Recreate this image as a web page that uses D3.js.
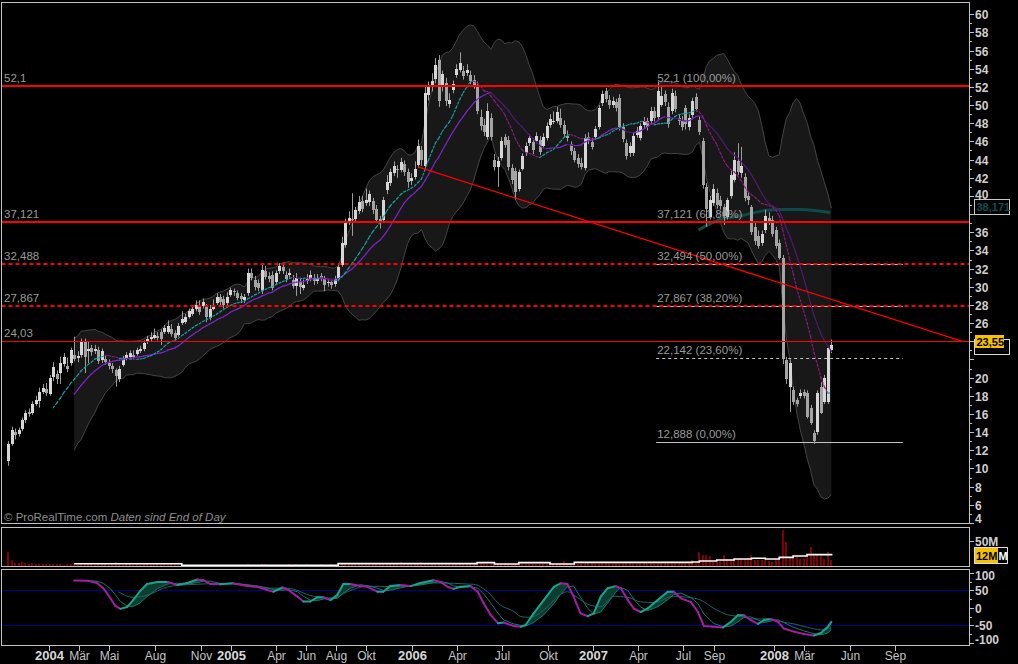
<!DOCTYPE html>
<html><head><meta charset="utf-8">
<script src="https://cdn.jsdelivr.net/npm/d3@7"></script>
<style>
html,body{margin:0;padding:0;background:#000;overflow:hidden;}
svg{display:block;}
text{font-family:"Liberation Sans",Arial,sans-serif;}
</style></head><body>
<svg id="c" width="1018" height="664"></svg>
<script>
// ---------------- DATA (weekly bars, first bar 2003-10-10) ----------------
const firstBar = "2003-10-10";
const opens = [
10.8,12.7,14.0,13.8,14.3,15.3,16.2,16.1,17.1,17.4,
18.4,18.8,18.2,20.1,20.4,20.5,21.5,21.3,21.6,22.5,
22.2,22.5,24.0,22.9,23.3,22.9,23.0,21.9,22.1,21.6,
21.3,20.8,19.8,21.4,22.1,22.3,22.5,22.6,22.9,23.1,
23.9,24.2,24.4,24.6,25.0,25.0,25.0,25.4,24.9,24.7,
26.0,26.1,26.7,27.0,27.5,28.0,27.9,27.8,26.6,27.6,
28.2,28.9,28.6,28.2,29.1,29.5,29.3,29.0,28.5,29.3,
31.5,30.7,30.4,29.5,31.7,31.2,31.3,30.5,31.7,32.2,
31.3,31.3,30.7,30.1,30.5,29.9,30.6,30.9,31.0,30.6,
31.2,30.9,30.4,30.5,30.3,30.8,32.4,34.6,37.2,37.5,
37.5,38.3,39.4,39.2,39.3,39.4,38.6,37.5,37.4,40.7,
41.4,42.5,43.0,42.9,43.5,42.6,41.6,42.1,43.4,45.0,
43.3,51.1,52.0,52.9,55.0,52.0,52.4,50.1,51.7,53.3,
53.9,53.7,53.5,53.3,52.8,52.0,48.7,47.8,46.5,48.6,
44.0,43.2,44.2,46.5,46.2,43.1,42.7,40.8,43.0,44.7,
45.8,45.9,46.1,46.2,45.5,46.4,47.8,48.2,48.2,48.6,
47.8,46.6,45.7,44.9,44.2,43.6,43.1,46.5,45.9,46.5,
47.6,50.2,51.5,50.6,50.0,50.3,50.8,47.6,45.8,44.7,
44.7,46.7,46.4,47.8,48.3,48.2,49.4,48.7,50.0,51.2,
49.8,49.3,51.0,48.6,48.4,49.7,47.6,48.9,50.9,48.4,
46.0,41.0,37.7,39.2,40.3,39.6,38.8,37.7,40.0,41.8,
43.8,42.5,42.1,40.0,38.8,36.6,35.6,34.8,36.2,37.6,
37.4,36.2,34.8,33.2,21.9,19.0,18.6,17.5,18.0,18.4,
18.3,16.6,13.9,14.0,19.0,17.3,17.3,23.0];
const highs = [
13.0,14.6,14.4,14.5,15.6,16.4,16.6,17.4,18.0,18.9,
19.3,19.4,20.3,21.7,20.8,22.3,22.7,22.2,23.3,24.5,
22.9,24.3,24.3,24.0,23.6,23.6,23.4,23.2,22.5,22.0,
21.6,21.0,21.3,22.4,22.8,23.0,23.0,23.3,23.5,24.1,
24.6,25.0,25.4,25.0,25.3,25.8,26.3,25.9,25.2,26.0,
27.3,27.0,27.6,27.9,28.5,28.5,28.7,28.1,28.0,28.6,
29.3,29.2,29.0,29.4,29.9,29.8,29.6,29.3,29.2,32.0,
32.0,31.2,30.8,32.5,32.3,31.6,31.7,31.8,32.6,32.6,
31.7,32.0,31.3,31.5,31.0,30.8,31.4,31.8,31.4,31.4,
31.5,31.2,30.9,30.8,31.2,32.6,35.5,37.5,38.3,40.3,
38.8,40.0,40.0,40.8,40.6,39.8,39.0,37.8,39.9,42.3,
43.0,43.8,43.4,44.2,43.9,43.0,42.5,43.8,46.2,45.5,
52.0,52.6,53.5,55.2,55.5,53.8,53.0,51.3,52.7,54.5,
55.8,54.3,54.5,53.8,53.3,52.6,49.5,48.5,50.2,49.1,
44.6,44.3,46.5,46.8,46.6,43.5,43.1,42.9,44.7,45.9,
46.8,46.3,47.0,46.6,46.9,48.1,49.0,49.3,49.8,49.6,
48.3,47.2,46.0,45.3,44.6,44.2,46.8,47.0,46.4,47.7,
50.0,51.6,51.9,51.1,50.9,50.7,51.2,48.0,46.2,45.9,
47.0,47.6,48.0,48.7,48.6,49.8,49.8,52.6,52.2,51.6,
50.3,51.8,51.6,49.0,48.8,50.0,49.0,50.8,51.3,48.8,
46.4,41.4,40.0,41.3,40.8,40.0,39.1,39.8,42.8,44.8,
45.8,45.4,42.5,40.4,39.0,37.2,36.2,36.2,38.5,38.2,
37.8,36.6,35.2,33.5,22.3,22.0,19.0,17.8,18.7,18.7,
18.6,17.0,14.2,18.6,19.5,20.3,23.5,24.2];
const lows = [
10.3,12.5,13.2,13.5,14.1,15.0,15.7,15.9,16.9,16.7,
18.2,18.0,18.0,19.6,19.3,19.3,21.2,20.6,21.3,21.8,
21.7,22.2,20.5,21.6,22.4,22.6,21.5,21.6,21.4,20.9,
20.5,19.0,19.5,21.2,21.9,22.1,22.0,22.4,22.7,22.9,
23.7,24.0,24.2,24.1,23.6,24.8,24.8,24.5,24.1,24.5,
25.8,25.9,26.5,26.8,27.3,26.9,27.6,26.1,26.3,27.4,
28.0,27.9,27.6,28.0,28.9,29.0,28.5,28.2,28.2,29.0,
30.7,29.6,29.5,29.2,30.8,30.5,29.6,30.2,31.4,31.4,
30.5,31.0,29.8,29.0,29.2,29.6,30.3,30.6,30.2,30.3,
30.6,29.5,30.0,29.8,30.0,30.6,32.2,34.3,36.8,35.6,
37.2,38.0,38.2,38.9,38.9,38.0,37.0,36.4,37.2,40.2,
41.1,42.2,42.0,42.6,42.2,40.9,41.2,41.8,43.1,43.3,
43.0,50.5,51.5,52.4,49.8,51.5,49.9,49.7,51.3,53.0,
53.6,52.8,53.2,52.3,51.8,49.0,47.2,46.6,46.2,46.1,
42.8,41.0,43.9,45.3,42.8,41.3,39.6,40.5,42.8,44.4,
45.5,44.6,45.8,44.5,45.2,46.1,47.5,47.9,48.0,47.5,
46.5,46.0,44.5,43.7,43.1,42.9,42.8,45.7,45.1,46.2,
47.3,49.9,50.3,49.6,49.7,49.3,47.2,45.9,44.0,44.3,
44.4,46.4,46.1,47.5,47.2,47.9,48.2,48.4,49.8,49.9,
47.5,49.0,49.2,47.8,47.2,47.3,47.2,48.6,49.3,46.7,
40.8,36.6,37.4,38.9,38.6,38.5,36.8,37.4,39.7,41.5,
42.3,42.0,39.4,39.0,35.7,34.6,34.2,34.5,35.9,36.8,
35.5,34.2,33.0,21.5,19.3,16.2,17.0,16.8,17.7,17.7,
15.5,14.8,12.7,13.7,16.0,17.1,17.1,22.7];
const closes = [
12.7,14.2,13.7,14.2,15.3,16.1,16.0,17.1,17.5,18.4,
18.9,18.3,20.0,21.2,19.8,21.6,22.3,20.9,23.0,22.1,
22.4,24.0,22.3,23.2,22.8,23.1,21.8,22.9,21.7,21.3,
20.9,20.2,21.0,22.1,22.5,22.7,22.3,23.0,23.2,23.8,
24.2,24.5,24.7,24.4,24.3,25.5,25.7,24.8,24.4,25.7,
26.5,26.7,27.3,27.6,28.0,27.2,28.3,26.7,27.6,28.0,
28.9,28.3,28.0,28.9,29.6,29.4,28.8,28.6,28.9,31.5,
31.0,30.0,29.9,31.8,31.1,30.9,29.9,31.5,32.3,31.7,
30.9,31.5,30.1,31.0,30.0,30.2,30.9,31.3,30.6,31.0,
31.0,30.2,30.5,30.2,30.8,32.2,34.8,37.2,37.6,37.3,
38.4,39.3,38.6,39.6,40.2,38.4,37.3,37.0,39.5,41.5,
42.6,43.3,42.8,43.7,42.6,41.5,42.0,43.0,45.5,44.0,
51.3,52.0,52.6,54.4,50.5,53.4,50.5,50.6,52.3,54.0,
54.6,53.2,53.9,52.6,52.2,49.4,47.7,47.0,49.3,46.5,
43.2,43.8,46.0,45.6,43.2,41.7,40.4,42.6,44.4,45.5,
46.4,45.0,46.6,44.8,46.5,47.7,48.5,48.3,49.2,47.8,
46.8,46.4,44.9,44.0,43.5,43.2,46.4,46.0,45.4,47.4,
49.7,51.2,50.7,50.0,50.5,49.7,47.6,46.3,44.4,45.5,
46.6,47.2,47.7,48.3,47.6,49.4,48.6,51.6,51.0,50.3,
47.9,51.3,49.6,48.2,47.6,47.9,48.6,50.4,49.6,47.0,
41.2,38.6,39.5,40.8,39.0,38.9,37.8,39.5,42.3,44.0,
42.6,43.3,39.8,39.6,36.0,35.0,34.5,35.8,37.8,37.2,
35.8,34.5,33.2,22.1,19.8,21.6,17.3,17.1,18.3,18.0,
15.7,15.0,13.0,18.3,16.1,20.0,23.3,23.55];
const volumes = [ // millions
28,12,6.5,5,7,5,4,6,4.5,4,
4,3.5,3.5,3,3,3.5,2.5,3,3.5,3,
2.5,3,3.5,3,3,2.5,3,3.5,3,2.5,
3,8,3,2.5,3,3,2.5,3,2.5,3,
3,2.5,2.5,3,2,3,2.5,3,2,2.5,
1.2,1,1.5,1,1.2,1.5,1,1.3,1,1.2,
1.5,1,1.2,1,1.5,1.2,1,1.3,1.5,3,
1.2,1,1.5,4,3,1.2,1,1.5,1.2,1,
1.3,3,1.2,3.5,1,1.2,3,1.5,1,1.2,
3,1.5,1,3,1.2,1.5,5,4,3.5,3,
4,3,3.5,4,3,3.5,3,4,3.5,3,
4,3,3.5,7,3,4,3.5,3,4,8,
5,4,3.5,4,3,4,3.5,4,3,3.5,
4,3,3.5,4,3,3.5,6,4,3.5,4,
3,3.5,4,5,4,3.5,6,5,4,3.5,
4,3,4,3.5,3,4,3.5,4,3,4,
10,5,4,5,4,10.5,6,5,6,7,
6,5,6,5,6,7,6,7,6,6,
7,6,7,6,7,6,10,6,7,6,
7,10,7,6,7,7,7,12,7,28,
22,22,20,8.6,8,10.5,22,13.2,13.8,13.2,
13.2,13.2,13.8,14.5,22,12,12,12,12,9.2,
8.6,13,17,72,48,17,22,18,13,16.5,
18,38,24,24,24,14,28,12];
// volume average (stepped), [bar index, value in M]
const volAvgIdx = [19,50,95,135,140,147,156,163,197,199,204,209,214,218,222,226,230,237.3];
const volAvgVal = [4.5,1.3,4.6,6.6,4.0,6.6,4.0,7.2,7.9,9.9,11.9,13.8,15.2,13.8,17.1,19.8,22.4,22.4];

// oscillator (samples by bar index)
const oscIdx = [19,23,25.6,27.4,29.4,30.8,32.3,34.3,36,38,
40,43,46,48.7,51.6,54.5,56.2,58.2,61,64.8,
68.9,71.8,74.6,76.4,79,80.7,83.3,85,87,89,
90.8,92.8,94.8,96.5,98.6,101.4,103.5,106.3,108,110,
113,115.9,118.7,122.5,124.5,126.5,128.2,130.3,133.1,135.2,
136.9,138.9,141,142.7,145.5,147.6,149,151.3,154.2,157.1,
159,161,162.8,164.8,166.9,168.6,170.6,172.6,174.9,176.4,
178.4,180.1,182.1,184.1,187,189.9,191.6,193.7,196.5,198.6,
200.3,203.2,205.8,208.1,210.1,211.8,213.8,215.9,217.6,219.6,
221.6,223.3,226.2,229.1,232,234,236,237];
const oscK = [78,77,71,56,28,6,-3,2.5,22,48,
68,74,74,65,71,81,79,68,67,70,
62,60,51,46,58,51,32,18,18,30,
30,22,37,68,68,62,60,46,46,62,
65,62,71,79,74,60,54,60,62,46,
13,-20,-44,-42,-52,-54,-49,-16,22,60,
70,68,32,-16,-24,-16,32,56,62,56,
22,-2,-12,-2,22,46,46,27,17,-12,
-52,-54,-56,-40,-21,-21,-35,-46,-35,-32,
-40,-59,-68,-75,-79,-72,-54,-40];
const oscD = [78,78,76,70,55,38,18,5,4,14,
32,55,68,70,68,72,76,76,70,68,
66,62,57,52,50,52,46,33,22,21,
25,26,27,42,56,66,63,56,50,50,
57,63,65,72,75,71,63,58,60,56,
40,14,-15,-35,-46,-50,-52,-42,-20,12,
38,60,62,30,-2,-18,-12,14,44,58,
50,25,2,-8,3,23,38,42,30,12,
-18,-45,-54,-52,-40,-28,-26,-35,-42,-38,
-34,-42,-56,-66,-74,-77,-72,-62];
const slowIdx = [31.7,36,40,46,51.6,64.8,74.6,80.4,87.9,93.7,
97.7,103.5,113,122.5,134,138,141.7,145.5,147.6,149.6,
151.3,154.2,161,162.8,166.9,170.6,174.4,178.4,182.1,186,
191.6,195.7,199.4,203.2,207.2,210.9,214.7,218.7,222.5,226.2,
230.2,234,236.9];
const slowVal = [46,30,36,60,66,70,56,56,33,28,
46,62,60,71,67,46,8,-10,-25,-27,
-25,-6,46,37,10,3,33,30,17,15,
33,30,22,-2,-20,-25,-32,-32,-40,-46,
-56,-63,-58];

// long average (dark teal) samples
const longIdx = [198.7,205,210.8,216.5,221.3,228,236.7];
const longVal = [36.25,37.4,37.8,38.3,38.5,38.5,38.17];

// horizontal levels
const levelVals = [52.1,37.121,32.488,27.867,24.03];
const levelText = ["52,1","37,121","32,488","27,867","24,03"];
const levelDash = [false,false,true,true,false];
const levelWidth = [2,2,2,2,1];

// Fibonacci retracement
const fibVals = [52.1,37.121,32.494,27.867,22.142,12.888];
const fibText = ["52,1 (100,00%)","37,121 (61,80%)","32,494 (50,00%)","27,867 (38,20%)","22,142 (23,60%)","12,888 (0,00%)"];
const fibStart = "2007-05-08", fibEnd = "2008-09-16";

// trend line
const trendDates = ["2006-01-13","2009-01-14"];
const trendVals = [43.2,24.0];

// axis ticks
const timeTicks = [["2004-01-01","2004",1],["2004-03-01","Mär",0],["2004-05-01","Mai",0],["2004-08-01","Aug",0],["2004-11-01","Nov",0],
["2005-01-01","2005",1],["2005-04-01","Apr",0],["2005-06-01","Jun",0],["2005-08-01","Aug",0],["2005-10-01","Okt",0],
["2006-01-01","2006",1],["2006-04-01","Apr",0],["2006-07-01","Jul",0],["2006-10-01","Okt",0],
["2007-01-01","2007",1],["2007-04-01","Apr",0],["2007-07-01","Jul",0],["2007-09-01","Sep",0],
["2008-01-01","2008",1],["2008-03-01","Mär",0],["2008-06-01","Jun",0],["2008-09-01","Sep",0]];
const priceLabelsHidden = [38,24,22]; // covered by value boxes in the original
const oscTicks = [100,50,0,-50,-100];
const lastPrice = "23,55", longLabel = "38,171", volLabel = "12M", volLabelTail = "M", volTick = 50;

// ---------------- DRAWING ----------------
const svg = d3.select("#c");
svg.append("rect").attr("width",1018).attr("height",664).attr("fill","#000");
const pd = d3.utcParse("%Y-%m-%d");
const DAY = 864e5;
const base = pd(firstBar).getTime();
const idxDate = t => new Date(base + t*7*DAY);
const x = d3.scaleUtc().domain([pd("2004-01-01"), pd("2008-01-01")]).range([49.3, 774.3]);
const yP = d3.scaleLinear().domain([24.03,52.1]).range([341,86]);
const yV = d3.scaleLinear().domain([0,50]).range([566,540.7]);
const yO = d3.scaleLinear().domain([-50,50]).range([625.3,590.3]);
const xi = t => x(idxDate(t));

const frame = {l:1.5, r:969.5};
const panels = {main:[2.5,523.5], vol:[527.5,566.5], osc:[569.5,645.5]};

const defs = svg.append("defs");
Object.entries(panels).forEach(([k,[t,b]])=>{
  defs.append("clipPath").attr("id","clip-"+k).append("rect")
    .attr("x",frame.l+0.5).attr("y",t+0.5).attr("width",frame.r-frame.l-1).attr("height",b-t-1);
});

const N = closes.length;
const bars = d3.range(N).map(i=>({i, d:idxDate(i), o:opens[i], c:closes[i],
  h:Math.max(highs[i],opens[i],closes[i]), l:Math.min(lows[i],opens[i],closes[i]), v:volumes[i]}));

// Bollinger (20,2) and moving averages from closes
function win(i,n){ return closes.slice(i-n+1,i+1); }
const band = [];
for(let i=19;i<N;i++){
  const w = win(i,20), m = d3.mean(w);
  const sd = Math.sqrt(d3.mean(w, v=>(v-m)*(v-m)));
  band.push({d:bars[i].d, m, up:m+2*sd, lo:m-2*sd});
}
const ma14 = [];
for(let i=13;i<N;i++) ma14.push({d:bars[i].d, v:d3.mean(win(i,14))});

const gMain = svg.append("g").attr("clip-path","url(#clip-main)");
// band
gMain.append("path").datum(band).attr("fill","#181818")
  .attr("d", d3.area().x(d=>x(d.d)).y0(d=>yP(d.lo)).y1(d=>yP(d.up)));
["up","lo"].forEach(k=>gMain.append("path").datum(band).attr("fill","none").attr("stroke","#454545").attr("stroke-width",1)
  .attr("d", d3.line().x(d=>x(d.d)).y(d=>yP(d[k]))));

// fib lines
fibVals.forEach((v,k)=>{
  gMain.append("line").attr("x1",x(pd(fibStart))).attr("x2",x(pd(fibEnd)))
    .attr("y1",Math.round(yP(v))+0.5).attr("y2",Math.round(yP(v))+0.5)
    .attr("stroke","#c4c4c4").attr("stroke-width",1)
    .attr("stroke-dasharray", k===4 ? "3,3" : null);
});

// long dark teal average
gMain.append("path").datum(longIdx.map((t,k)=>[xi(t), yP(longVal[k])]))
  .attr("fill","none").attr("stroke","#0e4a4a").attr("stroke-width",3)
  .attr("d", d3.line().curve(d3.curveMonotoneX));

// candles
const cg = gMain.append("g");
bars.forEach(b=>{
  const cx = Math.round(x(b.d));
  cg.append("line").attr("x1",cx+0.5).attr("x2",cx+0.5).attr("y1",yP(b.h)).attr("y2",yP(b.l))
    .attr("stroke","#9c9c9c").attr("stroke-width",1);
  const top = yP(Math.max(b.o,b.c)), bot = yP(Math.min(b.o,b.c));
  cg.append("rect").attr("x",cx-1).attr("width",3).attr("y",top).attr("height",Math.max(1,bot-top))
    .attr("fill", b.c>=b.o ? "#d6d6d6" : "#a4a4a4").attr("shape-rendering","crispEdges");
});

// slope coloured lines
function slopeLine(g, pts, upC, dnC, w, dash){
  for(let k=1;k<pts.length;k++){
    const a=pts[k-1], b=pts[k];
    g.append("line").attr("x1",a[0]).attr("y1",a[1]).attr("x2",b[0]).attr("y2",b[1])
      .attr("stroke", b[2]>=a[2]?upC:dnC).attr("stroke-width",w)
      .attr("stroke-dasharray",dash||null).attr("stroke-linecap","round");
  }
}
slopeLine(gMain, band.map(d=>[x(d.d),yP(d.m),d.m]), "#7d26c9", "#4e1a72", 1.2);
slopeLine(gMain, ma14.map(d=>[x(d.d),yP(d.v),d.v]), "#1b9c9c", "#8a1c7c", 1.2, "2,2");

// horizontal red levels
levelVals.forEach((v,k)=>{
  const yy = Math.round(yP(v)) + (levelWidth[k]===1?0.5:0);
  gMain.append("line").attr("x1",frame.l).attr("x2",frame.r).attr("y1",yy).attr("y2",yy)
    .attr("stroke","#ff0000").attr("stroke-width",levelWidth[k])
    .attr("stroke-dasharray", levelDash[k] ? "4,3" : null);
});
// trend line
gMain.append("line")
  .attr("x1",x(pd(trendDates[0]))).attr("y1",yP(trendVals[0]))
  .attr("x2",x(pd(trendDates[1]))).attr("y2",yP(trendVals[1]))
  .attr("stroke","#ff0000").attr("stroke-width",1.3);

// labels in main panel
levelVals.forEach((v,k)=>{
  gMain.append("text").attr("x",4).attr("y",Math.round(yP(v))-4).text(levelText[k])
    .attr("fill","#9a9a9a").attr("font-size",11.5);
});
fibVals.forEach((v,k)=>{
  gMain.append("text").attr("x",x(pd(fibStart))+1).attr("y",Math.round(yP(v))-4).text(fibText[k])
    .attr("fill","#9a9a9a").attr("font-size",11.5);
});
const cp = gMain.append("text").attr("x",4).attr("y",521).attr("font-size",11.5).attr("fill","#8e8e8e");
cp.append("tspan").text("© ProRealTime.com  ");
cp.append("tspan").attr("font-style","italic").text("Daten sind End of Day");

// ---------------- VOLUME ----------------
const gVol = svg.append("g").attr("clip-path","url(#clip-vol)");
bars.forEach(b=>{
  const cx = Math.round(x(b.d));
  gVol.append("rect").attr("x",cx-1).attr("width",2).attr("y",yV(b.v)).attr("height",yV(0)-yV(b.v))
    .attr("fill","#7e0000").attr("shape-rendering","crispEdges");
});
gVol.append("path").datum(volAvgIdx.map((t,k)=>[xi(t), yV(volAvgVal[k])]))
  .attr("fill","none").attr("stroke","#ffffff").attr("stroke-width",1.6)
  .attr("d", d3.line().curve(d3.curveStepAfter));

// ---------------- OSCILLATOR ----------------
const gOsc = svg.append("g").attr("clip-path","url(#clip-osc)");
[50,-50].forEach(v=>gOsc.append("line").attr("x1",frame.l).attr("x2",frame.r)
  .attr("y1",Math.round(yO(v))+0.5).attr("y2",Math.round(yO(v))+0.5).attr("stroke","#000088").attr("stroke-width",1));
const kPts = oscIdx.map((t,k)=>[xi(t), yO(oscK[k]), oscK[k]]);
const dPts = oscIdx.map((t,k)=>[xi(t), yO(oscD[k])]);
defs.append("clipPath").attr("id","aboveD").append("path")
  .attr("d", d3.area().x(p=>p[0]).y0(570).y1(p=>p[1])(dPts));
gOsc.append("g").attr("clip-path","url(#aboveD)").append("path")
  .attr("fill","#0c3d2e")
  .attr("d", d3.area().x(p=>p[0]).y0(p=>p[1]).y1(645)(kPts));
gOsc.append("path").datum(slowIdx.map((t,k)=>[xi(t), yO(slowVal[k])]))
  .attr("fill","none").attr("stroke","#1d6464").attr("stroke-width",1)
  .attr("d", d3.line().curve(d3.curveMonotoneX));
gOsc.append("path").datum(dPts).attr("fill","none").attr("stroke","#157a6c").attr("stroke-width",1)
  .attr("d", d3.line());
slopeLine(gOsc, kPts, "#1aa38e", "#a21ea2", 2);

// ---------------- FRAMES & AXES ----------------
const gAx = svg.append("g").attr("shape-rendering","crispEdges");
Object.values(panels).forEach(([t,b])=>{
  gAx.append("rect").attr("x",frame.l).attr("y",t).attr("width",frame.r-frame.l).attr("height",b-t)
    .attr("fill","none").attr("stroke","#c2c2c2").attr("stroke-width",1);
});
// price axis
for(let v=4; v<=60; v++){
  const yy = Math.round(yP(v))+0.5;
  gAx.append("line").attr("x1",frame.r).attr("x2",frame.r+(v%2===0?4:2.5)).attr("y1",yy).attr("y2",yy)
    .attr("stroke","#c2c2c2");
  if(v%2===0 && !priceLabelsHidden.includes(v)){
    svg.append("text").attr("x",975).attr("y",yy+4+(v===4?-5:0)+(v===40?-1.5:0)).text(v)
      .attr("fill","#cfcfcf").attr("font-size",12).attr("font-weight","bold");
  }
}
// volume axis
gAx.append("line").attr("x1",frame.r).attr("x2",frame.r+4).attr("y1",Math.round(yV(volTick))+0.5).attr("y2",Math.round(yV(volTick))+0.5).attr("stroke","#c2c2c2");
svg.append("text").attr("x",975).attr("y",Math.round(yV(volTick))+4.5).text(volTick+"M")
  .attr("fill","#cfcfcf").attr("font-size",12).attr("font-weight","bold");
// oscillator axis
for(let v=-100; v<=100; v+=25){
  const yy = Math.round(yO(v))+0.5;
  gAx.append("line").attr("x1",frame.r).attr("x2",frame.r+(v%50===0?4:2.5)).attr("y1",yy).attr("y2",yy).attr("stroke","#c2c2c2");
}
oscTicks.forEach(v=>{
  const nud = v===100?2:(v===-100?-4:0);
  svg.append("text").attr("x",975).attr("y",Math.round(yO(v))+4.5+nud).text(v)
    .attr("fill","#cfcfcf").attr("font-size",12).attr("font-weight","bold");
});
// time axis
timeTicks.forEach(([ds,lab,yr])=>{
  const xx = Math.round(x(pd(ds)))+0.5;
  gAx.append("line").attr("x1",xx).attr("x2",xx).attr("y1",645.5).attr("y2",650.5).attr("stroke","#c2c2c2");
  svg.append("text").attr("x",xx).attr("y",660).attr("text-anchor","middle").text(lab)
    .attr("fill", yr?"#d8d8d8":"#c4c4c4").attr("font-size", yr?13:12).attr("font-weight", yr?"bold":"normal");
});

// value boxes on right
const lastY = Math.round(yP(closes[N-1]));
svg.append("rect").attr("x",974.5).attr("y",lastY-5.5).attr("width",35).attr("height",15)
  .attr("fill","#000").attr("stroke","#d8d8d8");
svg.append("rect").attr("x",975).attr("y",lastY-10).attr("width",29).attr("height",13).attr("fill","#f7c100");
svg.append("text").attr("x",976.5).attr("y",lastY+0.5).text(lastPrice).attr("fill","#000")
  .attr("font-size",11).attr("font-weight","bold");

const longY = Math.round(yP(longVal[longVal.length-1]));
svg.append("rect").attr("x",974.5).attr("y",longY-13.5).attr("width",35).attr("height",15)
  .attr("fill","#000").attr("stroke","#c8c8c8");
svg.append("text").attr("x",976.5).attr("y",longY-2).text(longLabel).attr("fill","#0f5050")
  .attr("font-size",11).attr("font-weight","bold");

const vY = Math.round(yV(volumes[N-1]));
svg.append("rect").attr("x",974.5).attr("y",vY-12.5).attr("width",33).attr("height",16)
  .attr("fill","#000").attr("stroke","#dcdcdc");
svg.append("text").attr("x",998.5).attr("y",vY-0.5).text(volLabelTail)
  .attr("fill","#ffffff").attr("font-size",11).attr("font-weight","bold");
svg.append("rect").attr("x",975).attr("y",vY-12).attr("width",23).attr("height",15).attr("fill","#f7c100");
svg.append("text").attr("x",976).attr("y",vY-0.5).text(volLabel).attr("fill","#000")
  .attr("font-size",11).attr("font-weight","bold");
</script>
</body></html>
